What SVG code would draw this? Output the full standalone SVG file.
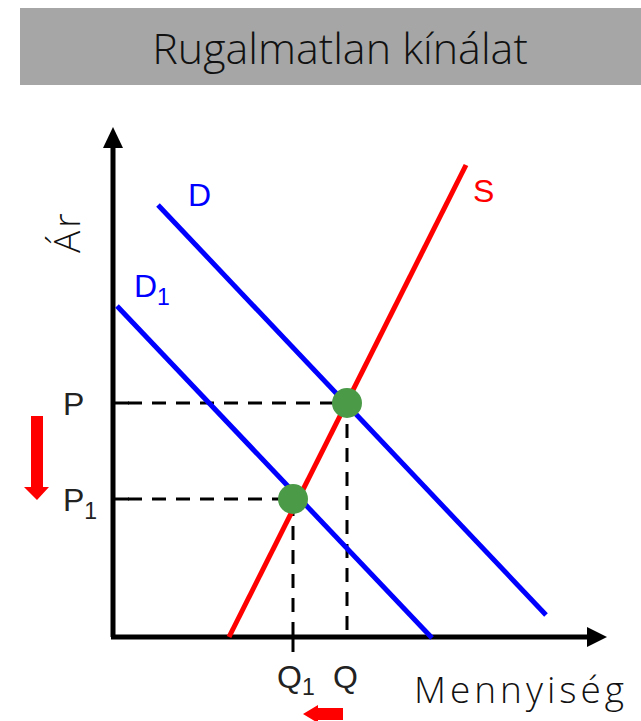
<svg xmlns="http://www.w3.org/2000/svg" width="641" height="721" viewBox="0 0 641 721">
<style>
.lbl{font-family:"Liberation Sans",Arial,sans-serif;font-size:32px;fill:#222}
.sub{font-size:23px}
.light{font-family:"Open Sans","Noto Sans",sans-serif;font-weight:300;fill:#111}
.dash{stroke:#000;stroke-width:3;stroke-dasharray:14 10;fill:none}
.tick{stroke:#000;stroke-width:3}
</style>
<rect width="641" height="721" fill="#fff"/>
<g id="title">
<rect x="20" y="8" width="621" height="77" fill="#a6a6a6"/>
<text class="light" x="340" y="64" font-size="43" text-anchor="middle">Rugalmatlan kínálat</text>
</g>
<g id="axes">
<line x1="113" y1="145" x2="113" y2="637" stroke="#000" stroke-width="5"/>
<polygon points="113,127 103,148 123,148" fill="#000"/>
<line x1="111" y1="637" x2="590" y2="637" stroke="#000" stroke-width="5"/>
<polygon points="607,637 587,627 587,647" fill="#000"/>
</g>
<g id="connectors">
<polyline class="dash" points="128,403 347,403 347,637"/>
<polyline class="dash" points="128,499 293,499 293,637"/>
<line class="tick" x1="113" y1="403" x2="129" y2="403"/>
<line class="tick" x1="113" y1="499" x2="129" y2="499"/>
<line class="tick" x1="293" y1="637" x2="293" y2="652"/>
<line x1="158" y1="205" x2="546" y2="615" stroke="#0000ff" stroke-width="5"/>
<line x1="117" y1="306" x2="432" y2="638" stroke="#0000ff" stroke-width="5"/>
<line x1="229" y1="637" x2="466" y2="165" stroke="#ff0000" stroke-width="5"/>
</g>
<g id="equilibria">
<circle cx="347" cy="403" r="15" fill="#4a9a48"/>
<circle cx="293" cy="499" r="15" fill="#4a9a48"/>
</g>
<g id="labels">
<text class="lbl" x="188" y="206" style="fill:#0000ff">D</text>
<text class="lbl" x="134" y="297" style="fill:#0000ff">D<tspan class="sub" dy="8">1</tspan></text>
<text class="lbl" x="473" y="202" style="fill:#ff0000">S</text>
<text class="lbl" x="63" y="415">P</text>
<text class="lbl" x="63" y="511">P<tspan class="sub" dy="8">1</tspan></text>
<text class="lbl" x="277" y="688">Q<tspan class="sub" dy="7">1</tspan></text>
<text class="lbl" x="333" y="688">Q</text>
<text class="light" x="0" y="0" font-size="37" letter-spacing="3" transform="translate(80,253) rotate(-90)">Ár</text>
<text class="light" x="414" y="703" font-size="37" letter-spacing="4">Mennyiség</text>
</g>
<g id="shift-arrows" fill="#ff0000">
<polygon points="31,416 43,416 43,487 49,487 37,500 24,487 31,487"/>
<polygon points="303,714 318,705 318,708 343,708 343,720 318,720 318,723"/>
</g>
</svg>
